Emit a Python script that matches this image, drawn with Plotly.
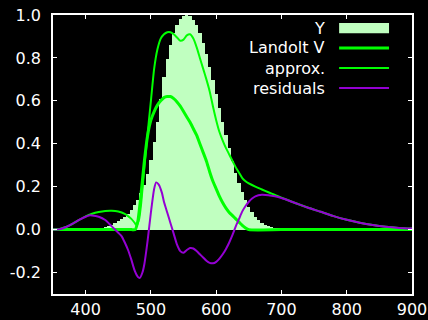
import plotly.graph_objects as go

# --- Data ---------------------------------------------------------------
y_wl = list(range(380, 785, 5))
y_vals = [0.000039, 0.000064, 0.00012, 0.000217, 0.000396, 0.00064, 0.00121, 0.00218,
          0.004, 0.0073, 0.0116, 0.01684, 0.023, 0.0298, 0.038, 0.048, 0.06, 0.0739,
          0.09098, 0.1126, 0.13902, 0.1693, 0.20802, 0.2586, 0.323, 0.4073, 0.503,
          0.6082, 0.71, 0.7932, 0.862, 0.91485, 0.954, 0.9803, 0.99495, 1.0, 0.995,
          0.9786, 0.952, 0.9154, 0.87, 0.8163, 0.757, 0.6949, 0.631, 0.5668, 0.503,
          0.4412, 0.381, 0.321, 0.265, 0.217, 0.175, 0.1382, 0.107, 0.0816, 0.061,
          0.04458, 0.032, 0.0232, 0.017, 0.01192, 0.00821, 0.005723, 0.004102,
          0.002929, 0.002091, 0.001484, 0.001047, 0.00074, 0.00052, 0.000361,
          0.000249, 0.000172, 0.00012, 0.0000848, 0.00006, 0.0000424, 0.00003,
          0.0000212, 0.000015]

landolt_wl = [350, 400, 450, 470, 476, 480, 485, 490, 495, 500, 505, 510, 515, 520,
              525, 530, 535, 540, 545, 550, 555, 560, 565, 570, 575, 580, 585, 590,
              595, 600, 605, 610, 615, 620, 625, 630, 635, 640, 645, 650, 700, 800, 900]
landolt_vals = [0, 0, 0, 0, 0, 0.04, 0.17, 0.32, 0.44, 0.51, 0.55, 0.58, 0.60, 0.615,
                0.62, 0.62, 0.61, 0.595, 0.575, 0.55, 0.525, 0.50, 0.47, 0.44, 0.40,
                0.36, 0.32, 0.27, 0.225, 0.19, 0.155, 0.125, 0.10, 0.08, 0.065, 0.05,
                0.035, 0.02, 0.008, 0, 0, 0, 0]

approx_wl = [350, 360, 370, 380, 390, 400, 410, 420, 430, 440, 450, 460, 465, 470,
             475, 478, 482, 485, 490, 495, 500, 505, 510, 515, 520, 525, 530, 535,
             540, 545, 550, 555, 560, 565, 570, 575, 580, 585, 590, 595, 600, 605,
             610, 615, 620, 625, 630, 635, 640, 645, 650, 660, 670, 680, 690, 700,
             720, 740, 760, 780, 800, 820, 840, 860, 880, 900]
approx_vals = [0, 0.003, 0.012, 0.027, 0.045, 0.062, 0.074, 0.082, 0.087, 0.088,
               0.084, 0.073, 0.063, 0.05, 0.032, 0.02, 0.05, 0.12, 0.29, 0.45, 0.60,
               0.75, 0.84, 0.89, 0.91, 0.92, 0.92, 0.91, 0.895, 0.88, 0.885, 0.905,
               0.91, 0.89, 0.85, 0.80, 0.75, 0.70, 0.645, 0.575, 0.51, 0.455, 0.415,
               0.38, 0.35, 0.32, 0.29, 0.265, 0.24, 0.225, 0.215, 0.20, 0.187, 0.174,
               0.162, 0.149, 0.125, 0.103, 0.083, 0.063, 0.046, 0.032, 0.021, 0.013,
               0.008, 0.005]

resid_wl = [350, 360, 370, 380, 390, 400, 405, 410, 420, 430, 440, 450, 455, 460,
            465, 470, 475, 480, 483, 487, 490, 495, 500, 505, 508, 512, 517, 520,
            525, 530, 535, 540, 545, 550, 555, 560, 565, 570, 575, 580, 585, 590,
            595, 600, 605, 610, 615, 620, 625, 630, 635, 640, 645, 650, 655, 660,
            670, 680, 690, 700, 720, 740, 760, 780, 800, 820, 840, 860, 880, 900]
resid_vals = [0, 0.002, 0.012, 0.028, 0.045, 0.06, 0.066, 0.066, 0.06, 0.045, 0.015,
              -0.015, -0.03, -0.06, -0.095, -0.14, -0.19, -0.22, -0.225, -0.2, -0.16,
              -0.05, 0.08, 0.19, 0.22, 0.21, 0.17, 0.13, 0.08, 0.03, -0.02, -0.07,
              -0.10, -0.108, -0.095, -0.086, -0.088, -0.10, -0.115, -0.13, -0.145,
              -0.155, -0.157, -0.15, -0.135, -0.115, -0.09, -0.06, -0.025, 0.015,
              0.05, 0.085, 0.11, 0.13, 0.145, 0.155, 0.162, 0.16, 0.155, 0.147,
              0.125, 0.103, 0.083, 0.063, 0.046, 0.032, 0.021, 0.013, 0.008, 0.005]

legend_labels = ["Y", "Landolt V", "approx.", "residuals"]
x_ticks = [400, 500, 600, 700, 800, 900]
y_ticks = [-0.2, 0.0, 0.2, 0.4, 0.6, 0.8, 1.0]

# --- Styles -------------------------------------------------------------
BAR_COLOR = "#c0ffc0"
GREEN = "#00ff00"
PURPLE = "#9400d3"
FONT = "DejaVu Sans"

fig = go.Figure()
fig.add_trace(go.Bar(x=y_wl, y=y_vals, width=5, marker=dict(color=BAR_COLOR, line=dict(width=0)),
                     name=legend_labels[0]))
fig.add_trace(go.Scatter(x=landolt_wl, y=landolt_vals, mode="lines",
                         line=dict(color=GREEN, width=3, shape="spline", smoothing=0.6),
                         name=legend_labels[1]))
fig.add_trace(go.Scatter(x=approx_wl, y=approx_vals, mode="lines",
                         line=dict(color=GREEN, width=2, shape="spline", smoothing=0.6),
                         name=legend_labels[2]))
fig.add_trace(go.Scatter(x=resid_wl, y=resid_vals, mode="lines",
                         line=dict(color=PURPLE, width=2, shape="spline", smoothing=0.6),
                         name=legend_labels[3]))

# custom gnuplot-style legend (text right-aligned, sample on the right)
rows_y = [0.953, 0.882, 0.810, 0.738]
text_x = 0.763
samp_x0, samp_x1 = 0.797, 0.936
annotations = []
shapes = []
for i, lab in enumerate(legend_labels):
    annotations.append(dict(x=text_x, y=rows_y[i], xref="paper", yref="paper", text=lab,
                            showarrow=False, xanchor="right", yanchor="middle",
                            font=dict(family=FONT, size=16, color="white")))
shapes.append(dict(type="rect", xref="paper", yref="paper", x0=samp_x0, x1=samp_x1,
                   y0=rows_y[0] - 0.018, y1=rows_y[0] + 0.018, fillcolor=BAR_COLOR,
                   line=dict(width=0)))
line_specs = [(GREEN, 3), (GREEN, 2), (PURPLE, 2)]
for i, (c, w) in enumerate(line_specs):
    shapes.append(dict(type="line", xref="paper", yref="paper", x0=samp_x0, x1=samp_x1,
                       y0=rows_y[i + 1], y1=rows_y[i + 1], line=dict(color=c, width=w)))

axis_common = dict(showgrid=False, zeroline=False, showline=True, linecolor="white",
                   linewidth=1.5, mirror="allticks", ticks="inside", ticklen=4,
                   tickcolor="white", tickwidth=1, automargin=False,
                   tickfont=dict(family=FONT, size=16, color="white"))

fig.update_layout(
    width=428, height=320,
    paper_bgcolor="black", plot_bgcolor="black",
    margin=dict(l=53, r=16, t=15, b=26),
    showlegend=False, bargap=0,
    annotations=annotations, shapes=shapes,
    xaxis=dict(range=[350, 900], tickvals=x_ticks, ticktext=[str(v) for v in x_ticks],
               ticklabelstandoff=0, **axis_common),
    yaxis=dict(range=[-0.3, 1.0], tickvals=y_ticks, ticktext=[f"{v:.1f}" for v in y_ticks],
               ticklabelstandoff=7, **axis_common),
)

# remove the default page margin so the figure sits at the window's top-left corner
fig.write_html("out.html", config={"displayModeBar": False},
               post_script="document.body.style.margin='0';document.body.style.background='black';")
